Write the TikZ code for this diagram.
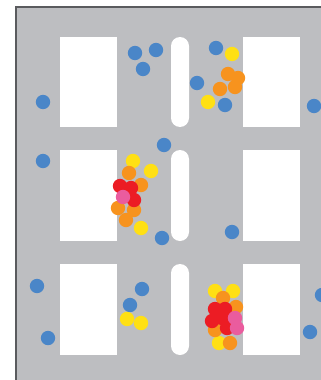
\documentclass[tikz,border=0pt]{standalone}
\definecolor{floorgray}{HTML}{BDBEC1}
\definecolor{edgegray}{HTML}{5A5B5E}
\definecolor{dotblue}{HTML}{4A86C8}
\definecolor{dotyellow}{HTML}{FFE014}
\definecolor{dotorange}{HTML}{F7931E}
\definecolor{dotred}{HTML}{EC1C24}
\definecolor{dotpink}{HTML}{EA5C9E}
\tikzset{
  tablebox/.style={fill=white},
  pillar/.style={fill=white,rounded corners=9pt},
  spot/.style={fill=#1,draw=none}
}
\begin{document}
\begin{tikzpicture}[x=1pt,y=-1pt]
  \useasboundingbox (0,0) rectangle (321,380);
  % Floor
  \fill[floorgray] (16,7) rectangle (321,380);
  \draw[edgegray,line width=1.5pt] (16,380) -- (16,7) -- (321,7);
  % Tables and pillars
  \foreach \ya/\yb in {37/127,150/241,264/355} {
    \fill[tablebox] (60,\ya) rectangle (117,\yb);
    \fill[tablebox] (243,\ya) rectangle (300,\yb);
    \fill[pillar] (171,\ya) rectangle (189,\yb);
  }
  % Blue spots
  \foreach \p in {(43,102),(135,53),(156,50),(143,69),(216,48),(197,83),
    (225,105),(314,106),(43,161),(164,145),(162,238),(232,232),(37,286),
    (48,338),(142,289),(130,305),(310,332),(322,295)}
    \fill[spot=dotblue] \p circle (7.2);
  % Yellow spots
  \foreach \p in {(232,54),(208,102),(133,161),(151,171),(141,228),
    (127,319),(141,323),(215,291),(233,291),(219,343)}
    \fill[spot=dotyellow] \p circle (7.2);
  % Orange spots
  \foreach \p in {(228,74),(238,78),(235,87),(220,89),(129,173),(141,185),
    (118,208),(134,210),(126,220),(223,298),(236,307),(215,330),(230,343)}
    \fill[spot=dotorange] \p circle (7.2);
  % Red spots
  \foreach \p in {(120,186),(131,188),(134,200),(128,195),(215,309),
    (225,309),(212,321),(222,318),(227,328)}
    \fill[spot=dotred] \p circle (7.2);
  % Pink spots
  \foreach \p in {(123,197),(235,318),(237,328)}
    \fill[spot=dotpink] \p circle (7.2);
\end{tikzpicture}
\end{document}
